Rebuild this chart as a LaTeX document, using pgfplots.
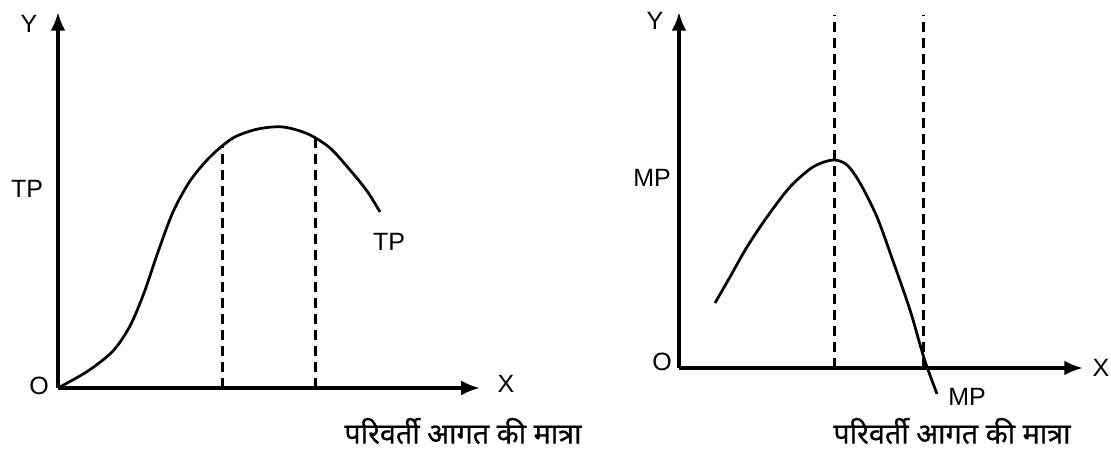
\documentclass[border=0pt]{standalone}
\usepackage{pgfplots}
\pgfplotsset{compat=1.18}
\usepackage{fontspec}
\setmainfont{Liberation Sans}
\newfontfamily\hindi[Script=Devanagari, FakeBold=0.5]{Noto Sans}
\usetikzlibrary{arrows.meta}
\begin{document}
\begin{tikzpicture}
\useasboundingbox (-23.2pt,-25.6pt) rectangle (421.2pt,155.2pt);
\pgfplotsset{
  econ/.style={
    x=0.4pt, y=0.4pt,
    axis lines=left,
    axis line style={line width=1.4pt, -{Latex[length=7.5pt,width=6pt]}},
    ticks=none,
    enlargelimits=false,
    clip=false,
    xmin=0, ymin=0,
    anchor=south west,
    every node/.append style={font=\fontsize{11.5}{13}\selectfont},
  },
  curve/.style={black, line width=1.1pt, smooth, tension=0.5},
  guide/.style={black, line width=1.2pt, dash pattern=on 4pt off 2.4pt},
}
% ---------- left: TP ----------
\begin{axis}[econ, at={(0pt,0pt)}, xmax=422, ymax=376]
\addplot[curve] coordinates {
(0,0) (30,17) (55,37) (72,62) (86,95) (100,136) (115,176) (132,207)
(152,231) (175,250) (200,259) (225,261) (250,254) (272,240) (292,218)
(309,197) (322,176)};
\addplot[guide] coordinates {(165,0) (165,243)};
\addplot[guide] coordinates {(258,0) (258,251)};
\node at (axis cs:-29,364) {Y};
\node at (axis cs:-19,2) {O};
\node at (axis cs:-31,199) {TP};
\node at (axis cs:331,146) {TP};
\node at (axis cs:448,4) {X};
\node at (axis cs:405,-43) {\hindi\fontsize{11.5}{13}\selectfont परिवर्ती आगत की मात्रा};
\end{axis}
% ---------- right: MP ----------
\begin{axis}[econ, at={(248.4pt,8pt)}, xmax=404, ymax=356]
\addplot[curve] coordinates {
(36,65) (51,91) (68,121) (88,151) (111,181) (134,201) (154,208)
(168,203) (181,185) (198,151) (214,107) (231,58) (245,10) (258,-26)};
\addplot[guide] coordinates {(155,0) (155,353)};
\addplot[guide] coordinates {(244,0) (244,353)};
\node at (axis cs:-24,347) {Y};
\node at (axis cs:-17,6) {O};
\node at (axis cs:-27,190) {MP};
\node at (axis cs:288,-29) {MP};
\node at (axis cs:422,0) {X};
\node at (axis cs:273,-63) {\hindi\fontsize{11.5}{13}\selectfont परिवर्ती आगत की मात्रा};
\end{axis}
\end{tikzpicture}
\end{document}
